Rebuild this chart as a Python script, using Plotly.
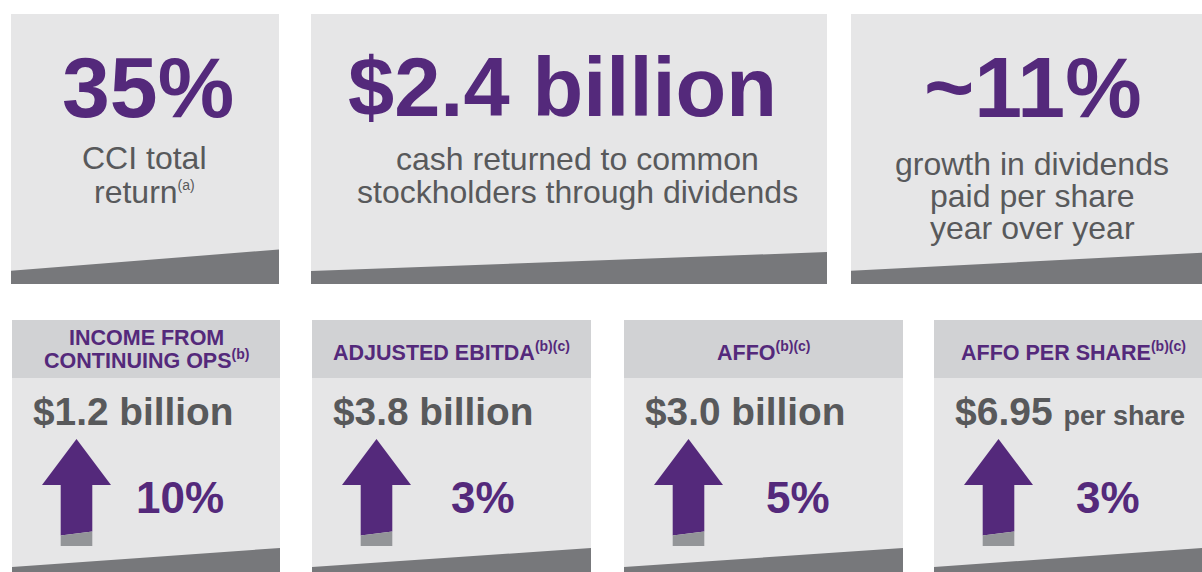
import plotly.graph_objects as go

# ---------------- data ----------------
top_values = ["35%", "$2.4 billion", "~11%"]
top_captions = [
    ["CCI total", "return<sup>(a)</sup>"],
    ["cash returned to common", "stockholders through dividends"],
    ["growth in dividends", "paid per share", "year over year"],
]
metric_titles = [
    ["INCOME FROM", "CONTINUING OPS<sup>(b)</sup>"],
    ["ADJUSTED EBITDA<sup>(b)(c)</sup>"],
    ["AFFO<sup>(b)(c)</sup>"],
    ["AFFO PER SHARE<sup>(b)(c)</sup>"],
]
metric_amounts = ["$1.2", "$3.8", "$3.0", "$6.95"]
metric_units = ["billion", "billion", "billion", "per share"]
metric_growth_pct = [10, 3, 5, 3]

# ---------------- style / layout ----------------
W, H = 1202, 572
PURPLE = "#54297B"
BOX = "#E6E6E7"
HEADER = "#D1D2D4"
BAND = "#77787B"
TEXT_GRAY = "#58595B"
ARROW_GRAY = "#939598"
FONT = "Liberation Sans, Arial, sans-serif"
ASC = 0.3465  # baseline offset from middle of text box (em)

top_boxes = [(11, 279), (311, 827), (851, 1202)]
top_y = (14, 284)
top_band = [(270.7, 249.5), (271, 252), (270.7, 252.7)]
top_value_cx = [147.5, 562, 1033]
top_value_size = [86, 83, 86]
top_caption_cx = [144, 577, 1032]
top_caption_base = [[169, 203], [170, 203], [175, 207, 239]]

bot_boxes = [(12, 280), (312, 591), (624, 903), (934, 1202)]
bot_y = (320, 572)
bot_header_bottom = 378
bot_band = (567, 548)

shapes = []
ann = []


def rect(x0, y0, x1, y1, color):
    shapes.append(dict(type="rect", xref="x", yref="y", x0=x0, y0=y0, x1=x1, y1=y1,
                       fillcolor=color, line=dict(width=0), layer="below"))


def poly(pts, color):
    d = "M " + " L ".join(f"{x},{y}" for x, y in pts) + " Z"
    shapes.append(dict(type="path", xref="x", yref="y", path=d,
                       fillcolor=color, line=dict(width=0), layer="below"))


def text(x, baseline, s, size, color, bold=False, xanchor="center"):
    if bold:
        s = f"<b>{s}</b>"
    ann.append(dict(x=x, y=baseline - ASC * size, xref="x", yref="y", text=s,
                    showarrow=False, xanchor=xanchor, yanchor="middle",
                    font=dict(family=FONT, size=size, color=color)))


# top row
for i, (x0, x1) in enumerate(top_boxes):
    rect(x0, top_y[0], x1, top_y[1], BOX)
    bl, br = top_band[i]
    poly([(x0, bl), (x1, br), (x1, top_y[1]), (x0, top_y[1])], BAND)
    text(top_value_cx[i], 117 if i != 1 else 116, top_values[i], top_value_size[i], PURPLE, bold=True)
    for line, base in zip(top_captions[i], top_caption_base[i]):
        line = line.replace("<sup>", "<sup><span style='font-size:14px'>").replace("</sup>", "</span></sup>")
        text(top_caption_cx[i], base, line, 32, TEXT_GRAY)

# bottom row
for i, (x0, x1) in enumerate(bot_boxes):
    rect(x0, bot_y[0], x1, bot_y[1], BOX)
    rect(x0, bot_y[0], x1, bot_header_bottom, HEADER)
    poly([(x0, bot_band[0]), (x1, bot_band[1]), (x1, bot_y[1]), (x0, bot_y[1])], BAND)

    cx_box = (x0 + 279 / 2) if i == 3 else (x0 + x1) / 2
    lines = metric_titles[i]
    bases = [345, 366.7] if len(lines) == 2 else [359.3]
    for line, base in zip(lines, bases):
        line = line.replace("<sup>", "<sup><span style='font-size:14px'>").replace("</sup>", "</span></sup>")
        text(cx_box, base, line, 21.5, PURPLE, bold=True)

    # value
    if metric_units[i] == "per share":
        s = f"{metric_amounts[i]} <span style='font-size:27px'>{metric_units[i]}</span>"
        text(x0 + 19, 425.5, s, 39, TEXT_GRAY, bold=True, xanchor="left")
    else:
        text(x0 + 19, 425, f"{metric_amounts[i]} {metric_units[i]}", 38.8, TEXT_GRAY, bold=True, xanchor="left")

    # arrow
    ax = x0 + 64.5
    hw, sw = 34.5, 15.8
    poly([(ax, 439), (ax + hw, 485), (ax + sw, 485), (ax + sw, 531.5),
          (ax - sw, 535.5), (ax - sw, 485), (ax - hw, 485)], PURPLE)
    poly([(ax - sw, 535.5), (ax + sw, 531.5), (ax + sw, 546), (ax - sw, 546)], ARROW_GRAY)

    # growth percent
    pct_cx = [180, 483, 797.5, 1107.5][i]
    text(pct_cx, 513, f"{metric_growth_pct[i]}%", 44, PURPLE, bold=True)

fig = go.Figure()
fig.update_layout(
    width=W, height=H,
    margin=dict(l=0, r=0, t=0, b=0),
    paper_bgcolor="white", plot_bgcolor="white",
    xaxis=dict(range=[0, W], visible=False, fixedrange=True),
    yaxis=dict(range=[H, 0], visible=False, fixedrange=True),
    shapes=shapes, annotations=ann, showlegend=False,
)
fig.write_html("out.html", config={"displayModeBar": False},
               post_script="document.body.style.margin='0';document.body.style.overflow='hidden';")
